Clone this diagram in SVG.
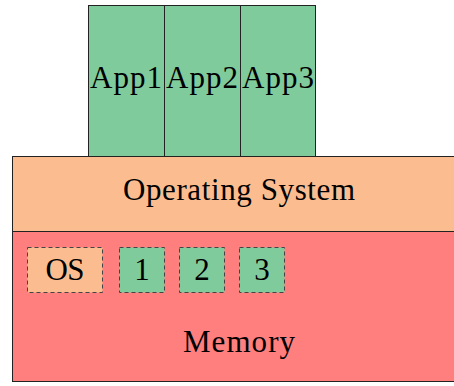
<svg xmlns="http://www.w3.org/2000/svg" width="454" height="386" viewBox="0 0 454 386">
<style>
text{font-family:"Liberation Serif","Times New Roman",serif;font-size:31px;fill:#000;text-anchor:middle}
.app{fill:#80cb9b;stroke:#222;stroke-width:1}
.os{fill:#fbbd8f;stroke:#222;stroke-width:1}
.mem{fill:#ff7f7f;stroke:#222;stroke-width:1}
.dg{fill:#80cb9b;stroke:#444;stroke-width:1;stroke-dasharray:4 3}
.do{fill:#fbbd8f;stroke:#444;stroke-width:1;stroke-dasharray:4 3}
</style>
<g id="memory"><rect class="mem" x="12.5" y="231.5" width="460" height="150"/><text x="239" y="352" textLength="112" lengthAdjust="spacing">Memory</text></g>
<g id="os"><rect class="os" x="12.5" y="156.5" width="460" height="75"/><text x="239" y="200" textLength="232" lengthAdjust="spacing">Operating System</text></g>
<g id="app1"><rect class="app" x="88.5" y="5.5" width="76" height="151"/><text x="126" y="88" textLength="72" lengthAdjust="spacing">App1</text></g>
<g id="app2"><rect class="app" x="164.5" y="5.5" width="76" height="151"/><text x="202" y="88" textLength="72" lengthAdjust="spacing">App2</text></g>
<g id="app3"><rect class="app" x="240.5" y="5.5" width="75" height="151"/><text x="278" y="88" textLength="72" lengthAdjust="spacing">App3</text></g>
<g id="mem-os"><rect class="do" x="27.5" y="247.5" width="75" height="45"/><text x="65" y="280" textLength="39" lengthAdjust="spacing">OS</text></g>
<g id="mem-1"><rect class="dg" x="119.5" y="247.5" width="45" height="45"/><text x="142" y="280" font-size="26">1</text></g>
<g id="mem-2"><rect class="dg" x="179.5" y="247.5" width="45" height="45"/><text x="202" y="280" font-size="26">2</text></g>
<g id="mem-3"><rect class="dg" x="239.5" y="247.5" width="45" height="45"/><text x="262" y="280" font-size="26">3</text></g>
<g id="connectors"/>
</svg>
